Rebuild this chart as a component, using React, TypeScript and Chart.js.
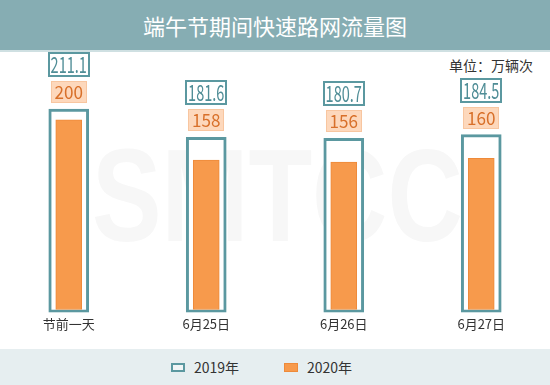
import React, { useEffect, useRef } from "react";
import { Chart, registerables } from "chart.js";

Chart.register(...registerables);

const titleText = "端午节期间快速路网流量图";
const unitText = "单位：万辆次";
const categories = ["节前一天", "6月25日", "6月26日", "6月27日"];
const seriesNames = ["2019年", "2020年"];
const values2019 = [211.1, 181.6, 180.7, 184.5];
const values2020 = [200, 158, 156, 160];
const labels2019 = ["211.1", "181.6", "180.7", "184.5"];
const labels2020 = ["200", "158", "156", "160"];

const TEAL = "#5b98a0";
const TEAL_TEXT = "#4f8d96";
const ORANGE = "#f79a4c";
const ORANGE_BORDER = "#ee8a3a";
const CJK = "'Noto Sans CJK SC', 'Noto Sans', sans-serif";

function drawBox(
  ctx: CanvasRenderingContext2D,
  text: string,
  cx: number,
  bottom: number,
  h: number,
  fontPx: number,
  sx: number,
  padX: number,
  fill: string,
  stroke: string,
  lw: number,
  color: string
) {
  ctx.save();
  ctx.font = `${fontPx}px ${CJK}`;
  const m = ctx.measureText(text);
  const tw = m.width * sx;
  const w = Math.round(tw + padX * 2);
  const left = Math.round(cx - w / 2);
  const top = Math.round(bottom - h);
  ctx.fillStyle = fill;
  ctx.fillRect(left, top, w, h);
  ctx.strokeStyle = stroke;
  ctx.lineWidth = lw;
  ctx.strokeRect(left + lw / 2, top + lw / 2, w - lw, h - lw);
  ctx.fillStyle = color;
  ctx.textAlign = "center";
  ctx.textBaseline = "alphabetic";
  const asc = m.actualBoundingBoxAscent || fontPx * 0.73;
  const desc = m.actualBoundingBoxDescent || 0;
  const baseline = top + h / 2 + (asc - desc) / 2;
  ctx.translate(cx, baseline);
  ctx.scale(sx, 1);
  ctx.fillText(text, 0, 0);
  ctx.restore();
  return top;
}

const boxLabelPlugin = {
  id: "boxLabels",
  afterDatasetsDraw(chart: any) {
    const ctx = chart.ctx as CanvasRenderingContext2D;
    const meta = chart.getDatasetMeta(0);
    meta.data.forEach((el: any, i: number) => {
      const cx = el.x;
      const top = el.y;
      const t20 = drawBox(ctx, labels2020[i], cx, top - 6, 22, 18, 0.95, 4, "#fdd8bc", "#f8c6a0", 1, "#d8702a");
      drawBox(ctx, labels2019[i], cx, t20 - 4, 25, 22, 0.66, 3, "#ffffff", TEAL, 2, TEAL_TEXT);
    });
  },
};

export default function App() {
  const ref = useRef<HTMLCanvasElement | null>(null);

  useEffect(() => {
    if (!ref.current) return;
    const chart = new Chart(ref.current, {
      type: "bar",
      data: {
        labels: categories,
        datasets: [
          {
            label: seriesNames[0],
            data: values2019,
            backgroundColor: "#ffffff",
            borderColor: TEAL,
            borderWidth: 3,
            borderSkipped: false,
            barThickness: 40,
            grouped: false,
            order: 1,
          } as any,
          {
            label: seriesNames[1],
            data: values2020,
            backgroundColor: ORANGE,
            borderColor: ORANGE_BORDER,
            borderWidth: 1,
            borderSkipped: false,
            barThickness: 26,
            grouped: false,
            base: 3,
            order: 0,
          } as any,
        ],
      },
      options: {
        responsive: false,
        animation: false,
        layout: { padding: { top: 60, bottom: 12, left: 0, right: 0 } },
        plugins: {
          legend: { display: false },
          title: { display: false },
          tooltip: { enabled: false },
        },
        scales: {
          x: {
            grid: { display: false, drawTicks: false },
            border: { display: false },
            ticks: {
              padding: 4,
              color: "#333333",
              font: { family: CJK, size: 13 },
            },
          },
          y: {
            display: false,
            min: 0,
            max: 262,
          },
        },
      },
      plugins: [boxLabelPlugin],
    });
    return () => chart.destroy();
  }, []);

  return (
    <div
      style={{
        position: "fixed",
        left: 0,
        top: 0,
        width: 550,
        height: 385,
        background: "#ffffff",
        overflow: "hidden",
        fontFamily: CJK,
      }}
    >
      <div
        style={{
          position: "absolute",
          left: 0,
          top: 0,
          width: 550,
          height: 50,
          background: "#86adb3",
          borderBottom: "2px solid #cfe0e2",
          color: "#ffffff",
          fontSize: 22,
          lineHeight: "50px",
          textAlign: "center",
        }}
      >
        {titleText}
      </div>
      <div
        style={{
          position: "absolute",
          left: 92,
          top: 130,
          fontSize: 132,
          fontWeight: "bold",
          fontFamily: "'Liberation Sans', sans-serif",
          color: "#f7f7f7",
          transform: "scaleX(0.79)",
          transformOrigin: "left top",
          lineHeight: "132px",
          whiteSpace: "nowrap",
        }}
      >
        SMTCC
      </div>
      <div
        style={{
          position: "absolute",
          right: 17,
          top: 55,
          fontSize: 14,
          lineHeight: "20px",
          color: "#333333",
        }}
      >
        {unitText}
      </div>
      <canvas
        ref={ref}
        width={550}
        height={348}
        style={{ position: "absolute", left: 0, top: 0, width: 550, height: 348 }}
      />
      <div
        style={{
          position: "absolute",
          left: 0,
          top: 349,
          width: 550,
          height: 36,
          background: "#e6eef0",
        }}
      >
        <div
          style={{
            position: "absolute",
            left: 171,
            top: 14,
            width: 14,
            height: 9,
            boxSizing: "border-box",
            border: `2px solid ${TEAL}`,
            background: "#f0f5f6",
          }}
        />
        <div style={{ position: "absolute", left: 194, top: 8, fontSize: 14, lineHeight: "20px", color: "#333333" }}>
          {seriesNames[0]}
        </div>
        <div
          style={{
            position: "absolute",
            left: 284,
            top: 14,
            width: 14,
            height: 9,
            boxSizing: "border-box",
            border: `1px solid ${ORANGE_BORDER}`,
            background: ORANGE,
          }}
        />
        <div style={{ position: "absolute", left: 307, top: 8, fontSize: 14, lineHeight: "20px", color: "#333333" }}>
          {seriesNames[1]}
        </div>
      </div>
    </div>
  );
}
